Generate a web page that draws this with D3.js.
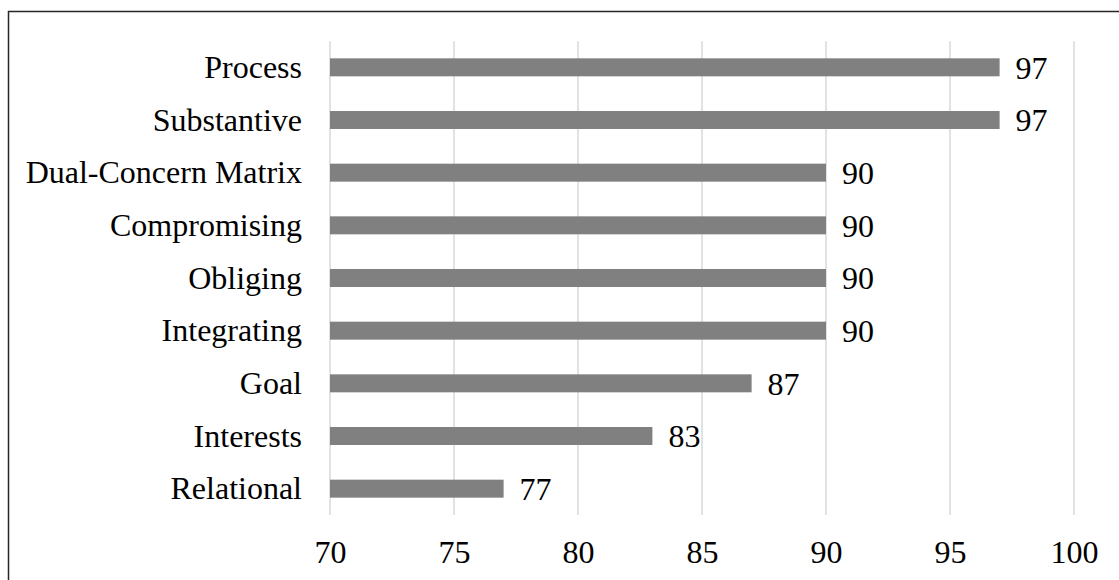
<!DOCTYPE html>
<html>
<head>
<meta charset="utf-8">
<script src="https://cdn.jsdelivr.net/npm/d3@7"></script>
<style>
  html, body { margin: 0; padding: 0; background: #fff; }
  svg { display: block; }
</style>
</head>
<body>
<svg id="chart" width="1119" height="580"></svg>
<script>
// Categories, top to bottom
const categories = [
  "Process", "Substantive", "Dual-Concern Matrix", "Compromising",
  "Obliging", "Integrating", "Goal", "Interests", "Relational"
];
// Score for each category
const values = [97, 97, 90, 90, 90, 90, 87, 83, 77];
// Axis ticks
const tickValues = [70, 75, 80, 85, 90, 95, 100];

const W = 1119, H = 580;
const plot = { left: 330, right: 1074, top: 41, bottom: 515 };
const font = "'Liberation Serif', 'Times New Roman', serif";

const svg = d3.select("#chart");

// Frame around the chart area
svg.append("rect")
  .attr("x", 8.5).attr("y", 11.5)
  .attr("width", W + 20).attr("height", H + 20)
  .attr("fill", "none")
  .attr("stroke", "#262626")
  .attr("stroke-width", 1.5);

const x = d3.scaleLinear().domain([70, 100]).range([plot.left, plot.right]);
const bandPad = 1 - 18 / ((plot.bottom - plot.top) / categories.length);
const y = d3.scaleBand()
  .domain(categories)
  .range([plot.top, plot.bottom])
  .paddingInner(bandPad)
  .paddingOuter(bandPad / 2);

// Vertical gridlines
svg.append("g")
  .selectAll("line")
  .data(tickValues)
  .join("line")
  .attr("x1", d => x(d)).attr("x2", d => x(d))
  .attr("y1", plot.top).attr("y2", plot.bottom)
  .attr("stroke", "#d9d9d9")
  .attr("stroke-width", 1.5);

// Bottom axis labels
const xAxis = d3.axisBottom(x).tickValues(tickValues).tickSize(0).tickPadding(0);
const gx = svg.append("g")
  .attr("transform", `translate(0,${plot.bottom})`)
  .call(xAxis);
gx.select(".domain").remove();
gx.selectAll("text")
  .attr("y", 48)
  .attr("dy", null)
  .attr("fill", "#000")
  .style("font-family", font)
  .style("font-size", "32px");

// Left category labels
const yAxis = d3.axisLeft(y).tickSize(0).tickPadding(0);
const gy = svg.append("g")
  .attr("transform", `translate(${plot.left},0)`)
  .call(yAxis);
gy.select(".domain").remove();
gy.selectAll("text")
  .attr("x", -28)
  .attr("dy", "0.33em")
  .attr("fill", "#000")
  .style("font-family", font)
  .style("font-size", "32px");

const data = categories.map((c, i) => ({ c, v: values[i] }));

// Bars
svg.append("g")
  .selectAll("rect")
  .data(data)
  .join("rect")
  .attr("x", x(70))
  .attr("y", d => y(d.c))
  .attr("width", d => x(d.v) - x(70))
  .attr("height", y.bandwidth())
  .attr("fill", "#808080");

// Value labels at bar ends
svg.append("g")
  .selectAll("text")
  .data(data)
  .join("text")
  .attr("x", d => x(d.v) + 16)
  .attr("y", d => y(d.c) + y.bandwidth() / 2)
  .attr("dy", "0.35em")
  .attr("fill", "#000")
  .style("font-family", font)
  .style("font-size", "32px")
  .text(d => d.v);
</script>
</body>
</html>
